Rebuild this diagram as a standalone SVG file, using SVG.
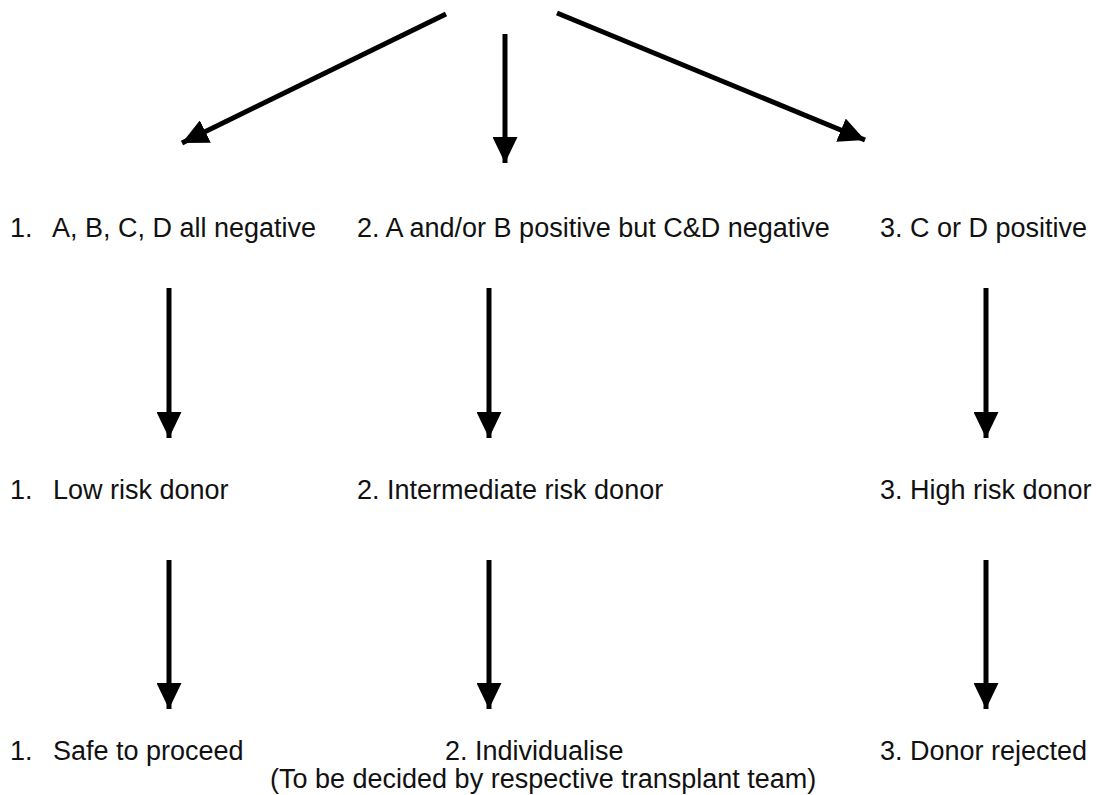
<svg xmlns="http://www.w3.org/2000/svg" width="1097" height="795" viewBox="0 0 1097 795">
<defs>
<marker id="ah" markerUnits="userSpaceOnUse" markerWidth="27" markerHeight="25" refX="26" refY="12.5" orient="auto" viewBox="0 0 27 25">
<path d="M0,0 L26,12.5 L0,25 Z" fill="#000"/>
</marker>
<style>
.t{font-family:"Liberation Sans",Arial,Helvetica,sans-serif;font-size:27px;fill:#111}
.c{stroke:#000;stroke-width:5;fill:none;marker-end:url(#ah)}
</style>
</defs>
<rect width="1097" height="795" fill="#fff"/>
<g id="connectors">
<line class="c" x1="446" y1="14" x2="182" y2="143"/>
<line class="c" x1="505" y1="34" x2="505" y2="163"/>
<line class="c" x1="557" y1="13" x2="865" y2="140"/>
<line class="c" x1="169" y1="288" x2="169" y2="438"/>
<line class="c" x1="489" y1="288" x2="489" y2="438"/>
<line class="c" x1="986" y1="288" x2="986" y2="438"/>
<line class="c" x1="169" y1="560" x2="169" y2="709"/>
<line class="c" x1="489" y1="560" x2="489" y2="709"/>
<line class="c" x1="986" y1="560" x2="986" y2="709"/>
</g>
<g id="n1a"><text class="t" x="10" y="237">1.</text><text class="t" x="52" y="237">A, B, C, D all negative</text></g>
<g id="n2a"><text class="t" x="357" y="237">2. A and/or B positive but C&amp;D negative</text></g>
<g id="n3a"><text class="t" x="880" y="237">3. C or D positive</text></g>
<g id="n1b"><text class="t" x="10" y="499">1.</text><text class="t" x="53" y="499">Low risk donor</text></g>
<g id="n2b"><text class="t" x="357" y="499">2. Intermediate risk donor</text></g>
<g id="n3b"><text class="t" x="880" y="499">3. High risk donor</text></g>
<g id="n1c"><text class="t" x="10" y="760">1.</text><text class="t" x="53" y="760">Safe to proceed</text></g>
<g id="n2c"><text class="t" x="445" y="760">2. Individualise</text><text class="t" x="270" y="788">(To be decided by respective transplant team)</text></g>
<g id="n3c"><text class="t" x="880" y="760">3. Donor rejected</text></g>
</svg>
